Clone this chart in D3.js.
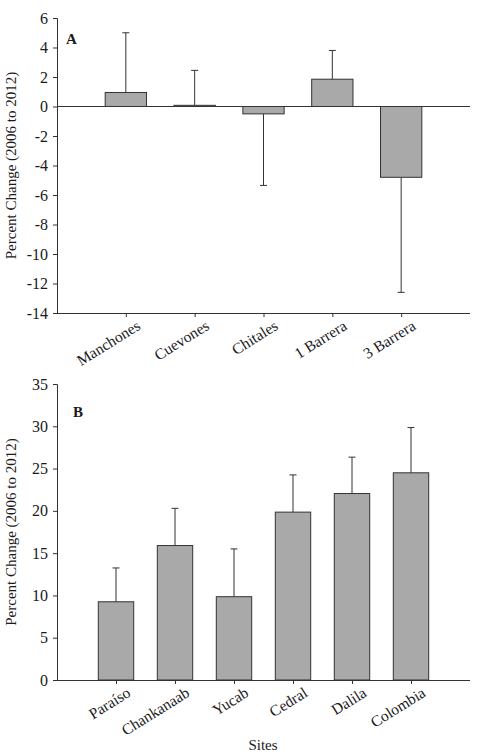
<!DOCTYPE html>
<html>
<head>
<meta charset="utf-8">
<script src="https://cdn.jsdelivr.net/npm/d3@7"></script>
<style>
  body { margin: 0; background: #fff; }
  text { font-family: "Liberation Serif", "Times New Roman", serif; fill: #1a1a1a; }
</style>
</head>
<body>
<div id="chart"></div>
<script>
// panel A
const sitesA = ["Manchones", "Cuevones", "Chitales", "1 Barrera", "3 Barrera"];
const meanA = [0.95, 0.08, -0.5, 1.85, -4.8];
const errA = [4.05, 2.37, 4.85, 1.95, 7.8];
const ticksA = [6, 4, 2, 0, -2, -4, -6, -8, -10, -12, -14];

// panel B
const sitesB = ["Paraíso", "Chankanaab", "Yucab", "Cedral", "Dalila", "Colombia"];
const meanB = [9.25, 15.9, 9.85, 19.85, 22.05, 24.5];
const errB = [4.0, 4.4, 5.65, 4.4, 4.3, 5.35];
const ticksB = [35, 30, 25, 20, 15, 10, 5, 0];

const W = 479, H = 755;
const svg = d3.select("#chart").append("svg")
    .attr("width", W).attr("height", H);

function drawPanel(opts) {
    const { sites, mean, err, ticks, domain, top, bottom, letter, letterPos } = opts;
    const left = 57, right = 470;

    const x = d3.scalePoint().domain(sites).range([left, right]).padding(1);
    const y = d3.scaleLinear().domain(domain).range([bottom, top]);
    const barW = x.step() * 0.6;
    const g = svg.append("g");

    // y axis (plain hyphen for negatives, like the original)
    const yAxis = g.append("g")
        .attr("transform", `translate(${left},0)`)
        .call(d3.axisLeft(y).tickValues(ticks).tickFormat(d => String(d))
            .tickSizeOuter(0).tickSize(4).tickPadding(5));
    yAxis.selectAll("text").style("font-size", "16px").attr("fill", "#1a1a1a");
    yAxis.select(".domain").attr("stroke", "#333");
    yAxis.selectAll(".tick line").attr("stroke", "#333");

    // x axis at bottom
    const xAxis = g.append("g")
        .attr("transform", `translate(0,${bottom})`)
        .call(d3.axisBottom(x).tickSizeOuter(0).tickSize(4).tickPadding(4));
    xAxis.select(".domain").attr("stroke", "#333").attr("d", `M${left},0.5H${right}`);
    xAxis.selectAll(".tick line").attr("stroke", "#333");
    xAxis.selectAll("text")
        .style("font-size", "15.5px")
        .attr("fill", "#1a1a1a")
        .style("text-anchor", "end")
        .attr("dx", "0.3em")
        .attr("dy", "0.85em")
        .attr("transform", "rotate(-32)");

    const data = sites.map((s, i) => ({ site: s, v: mean[i], e: err[i] }));

    // error bars (one-sided, away from zero)
    const tip = d => y(d.v >= 0 ? d.v + d.e : d.v - d.e);
    const eb = g.selectAll(".err").data(data).enter().append("g").attr("class", "err");
    eb.append("line")
        .attr("x1", d => x(d.site)).attr("x2", d => x(d.site))
        .attr("y1", d => y(d.v)).attr("y2", tip)
        .attr("stroke", "#333").attr("stroke-width", 1);
    eb.append("line")
        .attr("x1", d => x(d.site) - 3.5).attr("x2", d => x(d.site) + 3.5)
        .attr("y1", tip).attr("y2", tip)
        .attr("stroke", "#333").attr("stroke-width", 1);

    // bars
    g.selectAll(".bar").data(data).enter().append("rect")
        .attr("class", "bar")
        .attr("x", d => x(d.site) - barW / 2)
        .attr("width", barW)
        .attr("y", d => y(Math.max(0, d.v)))
        .attr("height", d => Math.max(1, Math.abs(y(d.v) - y(0))))
        .attr("fill", "#a9a9a9")
        .attr("stroke", "#333").attr("stroke-width", 1);

    // zero line
    if (domain[0] < 0) {
        g.append("line")
            .attr("x1", left).attr("x2", right)
            .attr("y1", y(0)).attr("y2", y(0))
            .attr("stroke", "#333").attr("stroke-width", 1);
    }

    // panel letter
    g.append("text")
        .attr("x", letterPos[0]).attr("y", letterPos[1])
        .style("font-size", "15px").style("font-weight", "bold")
        .text(letter);

    // y title
    g.append("text")
        .attr("transform", `translate(16,${(top + bottom) / 2}) rotate(-90)`)
        .attr("text-anchor", "middle")
        .style("font-size", "15px")
        .text("Percent Change (2006 to 2012)");
}

drawPanel({
    sites: sitesA, mean: meanA, err: errA, ticks: ticksA,
    domain: [-14, 6], top: 18, bottom: 313,
    letter: "A", letterPos: [66, 44]
});

drawPanel({
    sites: sitesB, mean: meanB, err: errB, ticks: ticksB,
    domain: [0, 35], top: 384, bottom: 680,
    letter: "B", letterPos: [73, 417]
});

svg.append("text")
    .attr("x", 263).attr("y", 750)
    .attr("text-anchor", "middle")
    .style("font-size", "15px")
    .text("Sites");
</script>
</body>
</html>
